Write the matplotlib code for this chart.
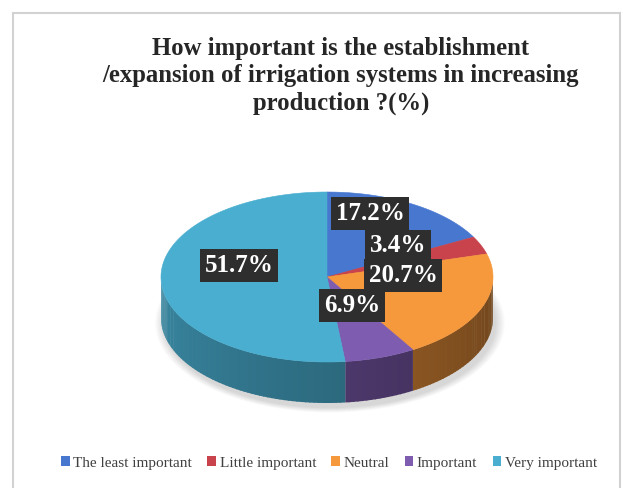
import numpy as np
import matplotlib
matplotlib.use("Agg")
import matplotlib.pyplot as plt
from matplotlib.patches import Polygon, Ellipse, Rectangle
from matplotlib.colors import to_rgb

# ---- data -------------------------------------------------------------
categories = ["The least important", "Little important", "Neutral",
              "Important", "Very important"]
values = [17.2, 3.4, 20.7, 6.9, 51.7]
colors = ["#4777cf", "#c8434b", "#f6983c", "#7e5cb0", "#49aed0"]
title = ("How important is the establishment\n"
         "/expansion of irrigation systems in increasing\n"
         "production ?(%)")

# ---- layout (pixel-like canvas coordinates, y grows downward) ----------
W, H = 623, 488
cx, cy = 327, 277      # centre of the top face
rx, ry = 166, 85       # radii of the top face
depth = 41             # thickness of the pie wall
label_pos = [(370, 213), (398, 246), (403, 275), (352, 305), (239, 265)]

fig = plt.figure(figsize=(W / 100, H / 100), dpi=100)
ax = fig.add_axes([0, 0, 1, 1])
ax.set_xlim(0, W)
ax.set_ylim(H, 0)
ax.axis("off")

# chart-area frame
ax.plot([13, 13, 620, 620], [H + 5, 13, 13, H + 5], color="#d2d2d2", lw=1.5,
        solid_joinstyle="miter")


def rim(theta_deg, dy=0.0):
    t = np.radians(theta_deg)
    return np.column_stack([cx + rx * np.sin(t), cy - ry * np.cos(t) + dy])


def shade(c, k):
    r, g, b = to_rgb(c)
    return (r * k, g * k, b * k)


# soft shadow under the pie
for i in range(10):
    grow = 1 + 0.006 * i
    ax.add_patch(Ellipse((cx + 3, cy + depth + 5), 2 * rx * grow, 2 * ry * grow,
                         facecolor="#000000", alpha=0.016, lw=0, zorder=1))

# slice angles (clockwise from 12 o'clock)
total = sum(values)
bounds = np.concatenate([[0], np.cumsum(values)]) / total * 360.0

# front wall, drawn in thin strips so the shading can vary around the rim
for v, c, a0, a1 in zip(values, colors, bounds[:-1], bounds[1:]):
    lo, hi = max(a0, 90.0), min(a1, 270.0)
    if hi <= lo:
        continue
    edges = np.linspace(lo, hi, max(2, int((hi - lo) / 1.5) + 1))
    for s0, s1 in zip(edges[:-1], edges[1:]):
        arc = np.linspace(s0, s1 + 0.4 if s1 < hi else s1, 4)
        top = rim(arc)
        bot = rim(arc[::-1], depth)
        mid = 0.5 * (s0 + s1)
        k = 0.45 + 0.33 * (mid - 90.0) / 180.0
        ax.add_patch(Polygon(np.vstack([top, bot]), closed=True,
                             facecolor=shade(c, k), lw=0, zorder=2))

# top face
for v, c, a0, a1 in zip(values, colors, bounds[:-1], bounds[1:]):
    arc = np.linspace(a0, a1, max(3, int(a1 - a0) + 2))
    pts = np.vstack([[cx, cy], rim(arc)])
    ax.add_patch(Polygon(pts, closed=True, facecolor=c, edgecolor=c,
                         lw=0.4, zorder=3))

# data labels
for v, (lx, ly) in zip(values, label_pos):
    ax.text(lx, ly, f"{v:.1f}%", ha="center", va="center", color="white",
            fontsize=18, fontweight="bold", family="Liberation Serif",
            zorder=5,
            bbox=dict(boxstyle="square,pad=0.2", facecolor="#2e2e2e",
                      edgecolor="none"))

# title
ax.text(341, 76, title, ha="center", va="center", fontsize=17.8,
        fontweight="bold", family="Liberation Serif", color="#262626",
        linespacing=1.22, zorder=5)

# legend
handles = [Rectangle((0, 0), 1, 1, facecolor=c, edgecolor="none")
           for c in colors]
fig.legend(handles, categories, loc="center", bbox_to_anchor=(329 / W, 1 - 463 / H),
           ncol=5, frameon=False, handlelength=0.55, handleheight=0.55,
           handletextpad=0.25, columnspacing=1.0,
           prop=dict(family="Liberation Serif", size=11), labelcolor="#404040")

fig.savefig("out.png", dpi=100)
